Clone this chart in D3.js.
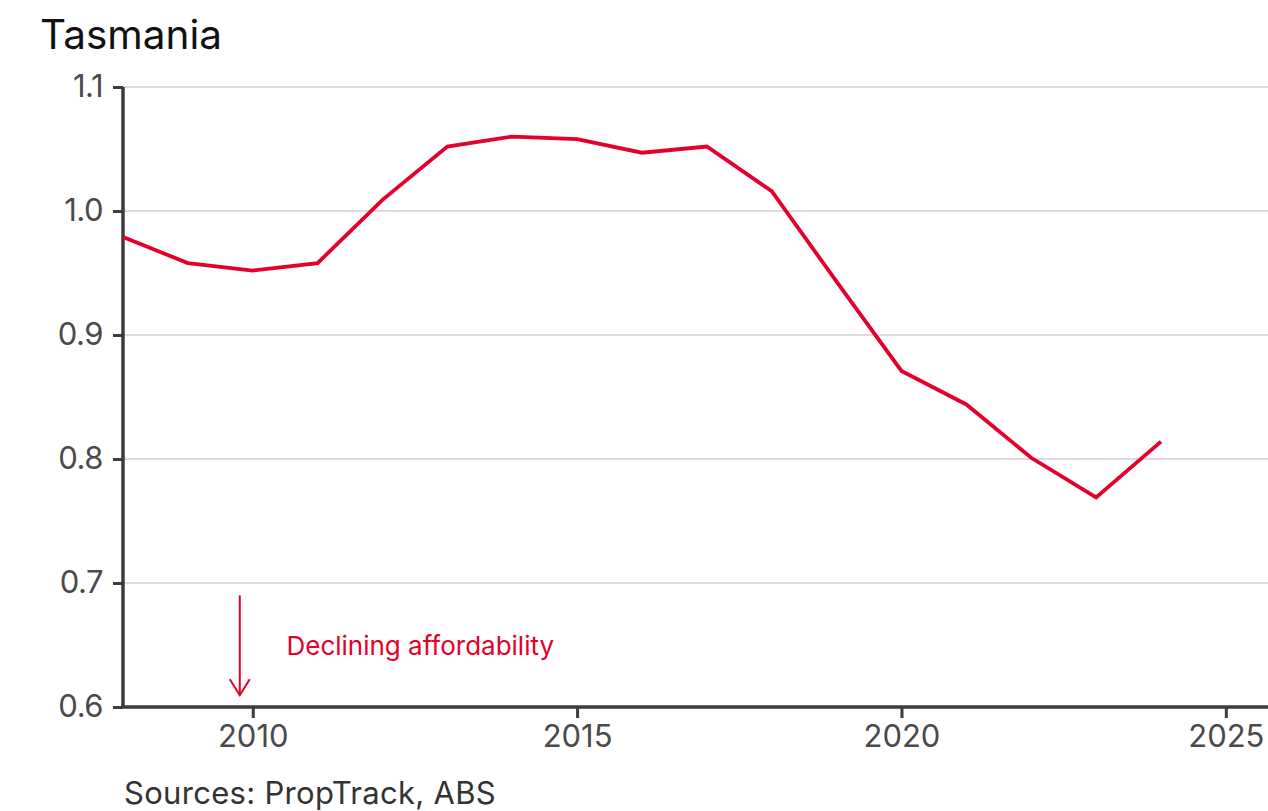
<!DOCTYPE html>
<html>
<head>
<meta charset="utf-8">
<script src="https://cdn.jsdelivr.net/npm/d3@7"></script>
<style>
  html, body { margin: 0; padding: 0; background: #fff; }
  svg { display: block; font-family: Inter, "Noto Sans", sans-serif; }
</style>
</head>
<body>
<svg id="chart" width="1268" height="811"></svg>
<script>
// Housing affordability index, Tasmania
const years = [2008, 2009, 2010, 2011, 2012, 2013, 2014, 2015, 2016, 2017, 2018, 2019, 2020, 2021, 2022, 2023, 2024];
const index = [0.979, 0.958, 0.952, 0.958, 1.009, 1.052, 1.060, 1.058, 1.047, 1.052, 1.016, 0.943, 0.871, 0.844, 0.801, 0.769, 0.814];
const yTicks = [0.6, 0.7, 0.8, 0.9, 1.0, 1.1];
const xTicks = [2010, 2015, 2020, 2025];
const titleText = "Tasmania";
const sourceText = "Sources: PropTrack, ABS";
const noteText = "Declining affordability";

const RED = "#e4002b";
const AXIS = "#3b3b40";
const GRID = "#dcdcdc";
const LABEL = "#4a4a4a";

const svg = d3.select("#chart");
const W = 1268;

const x = d3.scaleLinear().domain([2008, 2025.65]).range([123, 1268]);
const y = d3.scaleLinear().domain([0.6, 1.1]).range([707, 87]);

// gridlines
svg.append("g")
  .selectAll("line")
  .data(yTicks.filter(d => d > 0.6))
  .join("line")
  .attr("x1", x(2008)).attr("x2", W)
  .attr("y1", d => y(d)).attr("y2", d => y(d))
  .attr("stroke", GRID).attr("stroke-width", 2);

// y axis
const yAxis = svg.append("g")
  .attr("transform", `translate(${x(2008)},0)`)
  .call(d3.axisLeft(y).tickValues(yTicks).tickSize(10).tickPadding(10)
    .tickFormat(d3.format(".1f")));
yAxis.select(".domain").attr("stroke", AXIS).attr("stroke-width", 3.5)
  .attr("d", `M0,${y(1.1)}V${y(0.6)}`);
yAxis.selectAll(".tick line").attr("stroke", AXIS).attr("stroke-width", 3);
yAxis.selectAll(".tick text")
  .attr("fill", LABEL).attr("font-size", 31).attr("font-family", "Inter, sans-serif")
  .attr("letter-spacing", "-0.5px");

// x axis
const xAxis = svg.append("g")
  .attr("transform", `translate(0,${y(0.6)})`)
  .call(d3.axisBottom(x).tickValues(xTicks).tickSize(11).tickPadding(7)
    .tickFormat(d3.format("d")));
xAxis.select(".domain").attr("stroke", AXIS).attr("stroke-width", 3.5)
  .attr("d", `M${x(2008) - 2},0H${W}`);
xAxis.selectAll(".tick line").attr("stroke", AXIS).attr("stroke-width", 3);
xAxis.selectAll(".tick text")
  .attr("fill", LABEL).attr("font-size", 31).attr("font-family", "Inter, sans-serif")
  .attr("letter-spacing", "0px");

// series line
const line = d3.line().x((d, i) => x(years[i])).y(d => y(d));
svg.append("path")
  .datum(index)
  .attr("d", line)
  .attr("fill", "none")
  .attr("stroke", RED)
  .attr("stroke-width", 3.8)
  .attr("stroke-linejoin", "miter");

// annotation arrow
const ax = x(2009.8);
const arrow = svg.append("g").attr("stroke", RED).attr("stroke-width", 2).attr("fill", "none");
arrow.append("line").attr("x1", ax).attr("x2", ax).attr("y1", y(0.69)).attr("y2", y(0.6095));
arrow.append("path")
  .attr("d", `M${ax - 10},${y(0.6095) - 16}L${ax},${y(0.6095)}L${ax + 10},${y(0.6095) - 16}`);

svg.append("text")
  .attr("x", x(2010.52)).attr("y", y(0.649))
  .attr("dy", "0.35em")
  .attr("fill", RED).attr("font-size", 26)
  .attr("letter-spacing", "0px")
  .text(noteText);

// title and source
svg.append("text")
  .attr("x", 40).attr("y", 49)
  .attr("fill", "#111").attr("font-size", 40.5)
  .attr("letter-spacing", "0px")
  .text(titleText);

svg.append("text")
  .attr("x", 124).attr("y", 804)
  .attr("fill", "#333").attr("font-size", 31)
  .attr("letter-spacing", "0.3px")
  .text(sourceText);
</script>
</body>
</html>
